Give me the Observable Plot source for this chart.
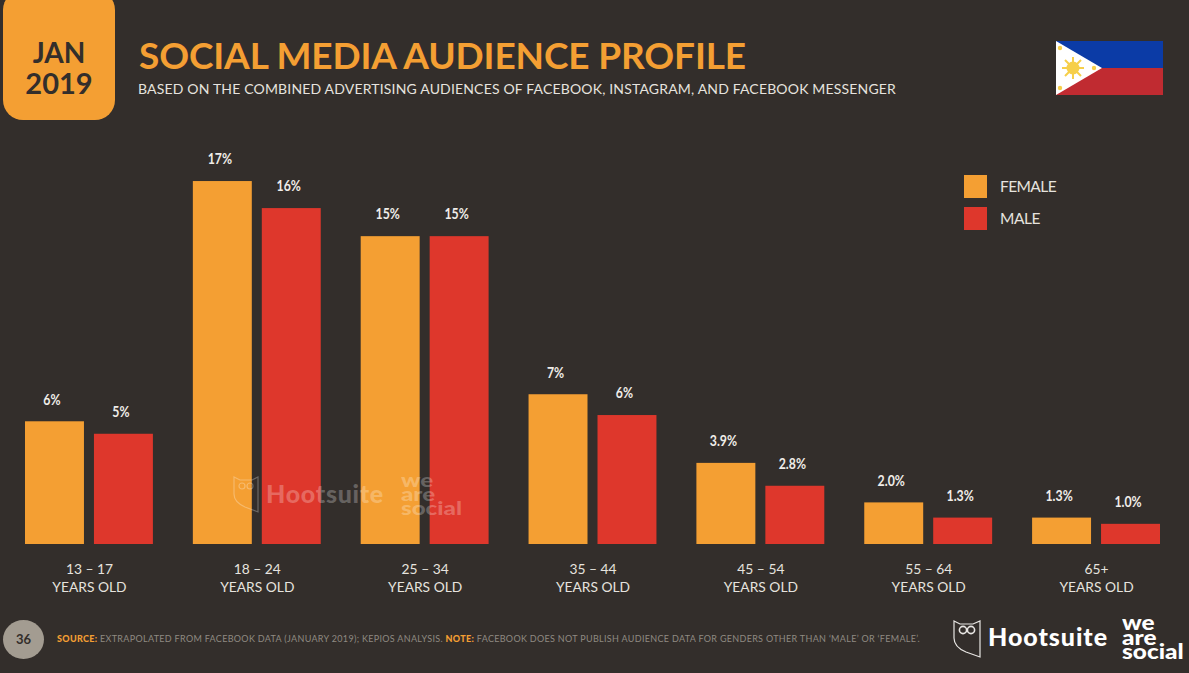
<!DOCTYPE html>
<html><head><meta charset="utf-8">
<script src="https://cdn.jsdelivr.net/npm/d3@7"></script>
<script src="https://cdn.jsdelivr.net/npm/@observablehq/plot@0.6"></script>
<style>
html,body{margin:0;padding:0;background:#332e2b;}
#page{position:relative;width:1189px;height:673px;overflow:hidden;background:#332e2b;font-family:Lato,sans-serif;}
#page>*{position:absolute;}
.t{white-space:nowrap;line-height:1;}
#badge{left:3px;top:-10px;width:112px;height:130px;background:#f49f33;border-radius:20px;}
#chart{left:0;top:120px;}
#chart svg{display:block;background:transparent;}
.sw{width:23px;height:23px;left:964px;}
.stack{transform-origin:left top;}
</style></head>
<body>
<div id="page">
  <div id="badge"></div>
  <div class="t" style="left:3px;width:112px;text-align:center;top:38px;font-size:28px;font-weight:700;color:#332e2b;">JAN</div>
  <div class="t" style="left:3px;width:112px;text-align:center;top:68px;font-size:29px;font-weight:700;color:#332e2b;">2019</div>
  <div class="t fit" data-w="607" style="left:139px;top:36px;font-size:37px;font-weight:700;color:#f49f33;">SOCIAL MEDIA AUDIENCE PROFILE</div>
  <div class="t fit" data-w="758" style="left:138px;top:82px;font-size:14px;color:#e6e3df;">BASED ON THE COMBINED ADVERTISING AUDIENCES OF FACEBOOK, INSTAGRAM, AND FACEBOOK MESSENGER</div>

  <svg style="left:1056px;top:41px" width="107" height="54" viewBox="0 0 107 54">
    <rect width="107" height="27" fill="#0b3ba6"/><rect y="27" width="107" height="27" fill="#c02b31"/>
    <path d="M0 0L46 27L0 54Z" fill="#fff"/>
    <g stroke="#f6cf4a" stroke-width="2"><path d="M6 27H28M17 16V38M9 19L25 35M9 35L25 19"/></g>
    <circle cx="17" cy="27" r="6.5" fill="#f6cf4a"/>
    <circle cx="4" cy="7" r="2.2" fill="#f6cf4a"/><circle cx="4" cy="47" r="2.2" fill="#f6cf4a"/><circle cx="38" cy="27" r="2.2" fill="#f6cf4a"/>
  </svg>

  <div id="chart"></div>

  <div class="sw" style="top:175px;background:#f49f33"></div>
  <div class="sw" style="top:207px;background:#de372c"></div>
  <div class="t fit" data-w="56" style="left:1000px;top:179px;font-size:15.5px;color:#e6e3df;">FEMALE</div>
  <div class="t fit" data-w="40" style="left:1000px;top:211px;font-size:15.5px;color:#e6e3df;">MALE</div>

  <!-- watermark -->
  <svg style="left:233px;top:476px" width="27" height="38" viewBox="0 0 27 38" fill="none" stroke="rgba(255,255,255,.28)" stroke-width="1.2">
    <path d="M1 1L7 4H19L25 1V36L12 31Q1 26 1 18Z"/><circle cx="9" cy="10" r="3"/><circle cx="17" cy="10" r="3"/>
  </svg>
  <div class="t fit" data-w="118" style="left:266px;top:481px;font-size:25px;font-weight:900;color:rgba(255,255,255,.26);">Hootsuite</div>
  <div class="t stack" style="left:401px;top:473px;font-size:19px;line-height:14px;font-weight:900;color:rgba(255,255,255,.26);transform:scaleX(1.27);">we<br>are<br>social</div>

  <!-- footer -->
  <div style="left:3px;top:620px;width:41px;height:39px;border-radius:50%;background:#a39c91;"></div>
  <div class="t" style="left:3px;width:41px;text-align:center;top:633px;font-size:13px;font-weight:700;color:#332e2b;">36</div>
  <div class="t fit" data-w="863" style="left:57px;top:634px;font-size:9px;color:#8f8a82;"><b style="color:#f49f33;font-weight:900">SOURCE:</b> EXTRAPOLATED FROM FACEBOOK DATA (JANUARY 2019); KEPIOS ANALYSIS. <b style="color:#f49f33;font-weight:900">NOTE:</b> FACEBOOK DOES NOT PUBLISH AUDIENCE DATA FOR GENDERS OTHER THAN ‘MALE’ OR ‘FEMALE’.</div>

  <svg style="left:953px;top:620px" width="28" height="38" viewBox="0 0 28 38" fill="none" stroke="#e8e6e3" stroke-width="1.2">
    <path d="M1 1L7 4H20L27 1V37L13 32Q1 27 1 18Z"/><circle cx="10" cy="10" r="3.6" stroke-width="1.6"/><circle cx="18" cy="10" r="3.6" stroke-width="1.6"/>
  </svg>
  <div class="t fit" data-w="120" style="left:988px;top:624px;font-size:25px;font-weight:900;color:#fff;">Hootsuite</div>
  <div class="t stack" style="left:1122px;top:615px;font-size:20px;line-height:14.5px;font-weight:900;color:#fff;transform:scaleX(1.22);">we<br>are<br>social</div>
</div>
<script>
const ages = ["13 – 17","18 – 24","25 – 34","35 – 44","45 – 54","55 – 64","65+"];
const genders = ["FEMALE","MALE"];
const femaleValues = [5.9,17.45,14.8,7.2,3.9,2.0,1.27];
const maleValues = [5.3,16.15,14.8,6.2,2.8,1.27,0.97];
const femaleLabels = ["6%","17%","15%","7%","3.9%","2.0%","1.3%"];
const maleLabels = ["5%","16%","15%","6%","2.8%","1.3%","1.0%"];

const rows = ages.flatMap((age,i)=>[
  {age,gender:"FEMALE",value:femaleValues[i],label:femaleLabels[i]},
  {age,gender:"MALE",value:maleValues[i],label:maleLabels[i]}
]);

const chart = Plot.plot({
  width:1189,height:480,
  marginTop:8,marginBottom:56,marginLeft:25,marginRight:29,
  style:{background:"transparent",overflow:"visible"},
  fx:{domain:ages,paddingInner:0.238,paddingOuter:0,round:false,label:null},
  x:{domain:genders,paddingInner:0.145,paddingOuter:0,round:false,axis:null},
  y:{domain:[0,20],axis:null},
  color:{domain:genders,range:["#f49f33","#de372c"]},
  marks:[
    Plot.axisFx({anchor:"bottom",tickSize:0,tickPadding:17,label:null,
      tickFormat:d=>d+"\nYEARS OLD",fontSize:13.8,fill:"#e6e3df",lineHeight:1.28,
      fontFamily:"Lato, sans-serif"}),
    Plot.barY(rows,{fx:"age",x:"gender",y:"value",fill:"gender"}),
    Plot.text(rows,{fx:"age",x:"gender",y:"value",text:"label",dy:-22,dx:-3,className:"vlabel",
      fill:"#efece8",fontSize:15,fontWeight:700,fontFamily:"Lato, sans-serif"})
  ]
});
document.getElementById("chart").append(chart);

// narrow the value labels horizontally, like the condensed face of the reference
chart.querySelectorAll(".vlabel text").forEach(t=>{
  t.setAttribute("lengthAdjust","spacingAndGlyphs");
  t.setAttribute("textLength",t.getComputedTextLength()*0.82);
});

document.querySelectorAll(".fit").forEach(el=>{
  const target=+el.dataset.w, n=el.textContent.length;
  const w=el.getBoundingClientRect().width;
  el.style.letterSpacing=((target-w)/n)+"px";
});
</script>
</body></html>
